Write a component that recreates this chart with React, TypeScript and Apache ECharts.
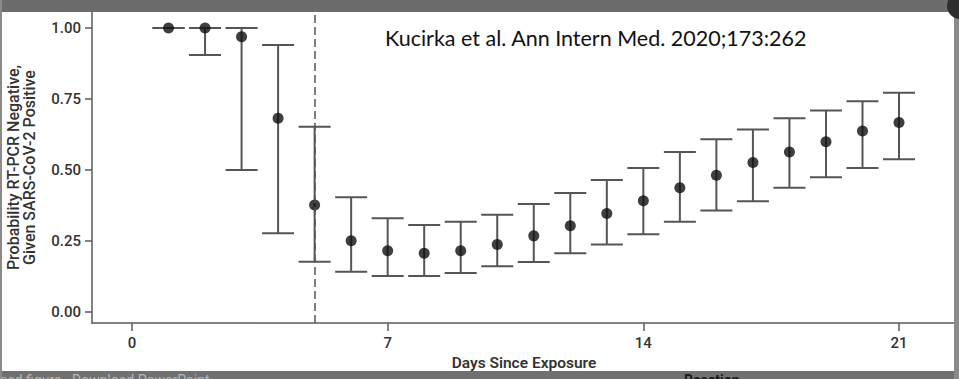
import React, { useEffect, useRef } from "react";
import * as echarts from "echarts";

const days = [1, 2, 3, 4, 5, 6, 7, 8, 9, 10, 11, 12, 13, 14, 15, 16, 17, 18, 19, 20, 21];
const estimate = [1.0, 1.0, 0.969, 0.682, 0.377, 0.251, 0.216, 0.207, 0.216, 0.238, 0.268, 0.304, 0.347, 0.392, 0.437, 0.481, 0.526, 0.563, 0.599, 0.637, 0.667];
const upperCI = [1.0, 1.0, 1.0, 0.94, 0.652, 0.404, 0.33, 0.306, 0.318, 0.342, 0.38, 0.419, 0.465, 0.507, 0.563, 0.608, 0.642, 0.682, 0.709, 0.742, 0.772];
const lowerCI = [1.0, 0.905, 0.5, 0.277, 0.177, 0.142, 0.127, 0.127, 0.137, 0.161, 0.176, 0.207, 0.238, 0.274, 0.318, 0.357, 0.39, 0.437, 0.474, 0.507, 0.538];
const xTicks = [0, 7, 14, 21];
const yTicks = [0, 0.25, 0.5, 0.75, 1.0];
const exposureCutoff = 5;
const citation = "Kucirka et al. Ann Intern Med. 2020;173:262";

export default function App() {
  const ref = useRef<HTMLDivElement>(null);
  useEffect(() => {
    if (!ref.current) return;
    const chart = echarts.init(ref.current, null, { renderer: "svg" });
    const ciData = days.map((d, i) => [d, lowerCI[i], upperCI[i]]);
    const pts = days.map((d, i) => [d, estimate[i]]);
    const axisColor = "#5a5a5a";
    const labelFont = {
      color: "#333",
      fontFamily: "Roboto",
      fontWeight: 500 as any,
      fontSize: 15,
    };
    chart.setOption({
      animation: false,
      backgroundColor: "#ffffff",
      grid: { left: 92, right: 3, top: 12, bottom: 56, containLabel: false, outerBoundsMode: "none" },
      xAxis: {
        type: "value",
        min: -1.095,
        max: 22.56,
        name: "Days Since Exposure",
        nameLocation: "middle",
        nameGap: 30,
        nameTextStyle: { ...labelFont, fontWeight: 600, fontSize: 15.5 },
        axisLine: { show: true, onZero: false, lineStyle: { color: axisColor, width: 1.5 } },
        axisTick: { show: true, customValues: xTicks, length: 8, lineStyle: { color: axisColor, width: 1.5 } },
        axisLabel: { customValues: xTicks, margin: 12, ...labelFont },
        splitLine: { show: false },
      },
      yAxis: {
        type: "value",
        min: -0.0387,
        max: 1.056,
        name: "Probability RT-PCR Negative,\nGiven SARS-CoV-2 Positive",
        nameLocation: "middle",
        nameGap: 54,
        nameTextStyle: { ...labelFont, fontWeight: 500, fontSize: 16, lineHeight: 16.5 },
        axisLine: { show: true, onZero: false, lineStyle: { color: axisColor, width: 1.5 } },
        axisTick: { show: true, customValues: yTicks, length: 7, lineStyle: { color: axisColor, width: 1.5 } },
        axisLabel: {
          customValues: yTicks,
          margin: 11,
          formatter: (v: number) => v.toFixed(2),
          ...labelFont,
        },
        splitLine: { show: false },
      },
      series: [
        {
          type: "custom",
          data: ciData,
          encode: { x: 0, y: [1, 2] },
          renderItem: (params: any, api: any) => {
            const x = api.value(0);
            const lo = api.coord([x, api.value(1)]);
            const hi = api.coord([x, api.value(2)]);
            const hw = 16;
            const style = { stroke: "#555", lineWidth: 2 };
            return {
              type: "group",
              children: [
                { type: "line", shape: { x1: lo[0], y1: lo[1], x2: hi[0], y2: hi[1] }, style },
                { type: "line", shape: { x1: hi[0] - hw, y1: hi[1], x2: hi[0] + hw, y2: hi[1] }, style },
                { type: "line", shape: { x1: lo[0] - hw, y1: lo[1], x2: lo[0] + hw, y2: lo[1] }, style },
              ],
            };
          },
          z: 2,
        },
        {
          type: "scatter",
          data: pts,
          symbol: "circle",
          symbolSize: 11,
          itemStyle: { color: "#0f0f0f" },
          z: 3,
          markLine: {
            silent: true,
            symbol: "none",
            label: { show: false },
            lineStyle: { type: [8, 4], color: "#555", width: 1.5 },
            data: [{ xAxis: exposureCutoff }],
          },
        },
      ],
      graphic: [
        {
          type: "text",
          left: 385,
          top: 27,
          style: { text: citation, fontFamily: "Lato", fontSize: 21.5, fill: "#111" },
          z: 10,
        },
        { type: "rect", shape: { x: 0, y: 0, width: 959, height: 12 }, style: { fill: "#6c6c6c" }, z: 20 },
        { type: "rect", shape: { x: 0, y: 371, width: 959, height: 8 }, style: { fill: "#707070" }, z: 20 },
        { type: "rect", shape: { x: 0, y: 0, width: 2, height: 379 }, style: { fill: "#8a8a8a" }, z: 20 },
        { type: "rect", shape: { x: 954, y: 0, width: 5, height: 379 }, style: { fill: "#8a8a8a" }, z: 20 },
        { type: "circle", shape: { cx: 960, cy: 6, r: 13 }, style: { fill: "#2e2e2e" }, z: 21 },
        {
          type: "text",
          left: 0,
          top: 373,
          style: { text: "ced figure   Download PowerPoint", fontFamily: "Roboto", fontSize: 14, fill: "#b5b5b5" },
          z: 22,
        },
        {
          type: "text",
          left: 684,
          top: 373,
          style: { text: "Reaction", fontFamily: "Roboto", fontWeight: "bold", fontSize: 14, fill: "#1a1a1a" },
          z: 22,
        },
      ],
    });
    return () => chart.dispose();
  }, []);
  return (
    <div style={{ position: "fixed", left: 0, top: 0, width: 959, height: 379, overflow: "hidden", background: "#fff" }}>
      <div ref={ref} style={{ width: 959, height: 379 }} />
    </div>
  );
}
